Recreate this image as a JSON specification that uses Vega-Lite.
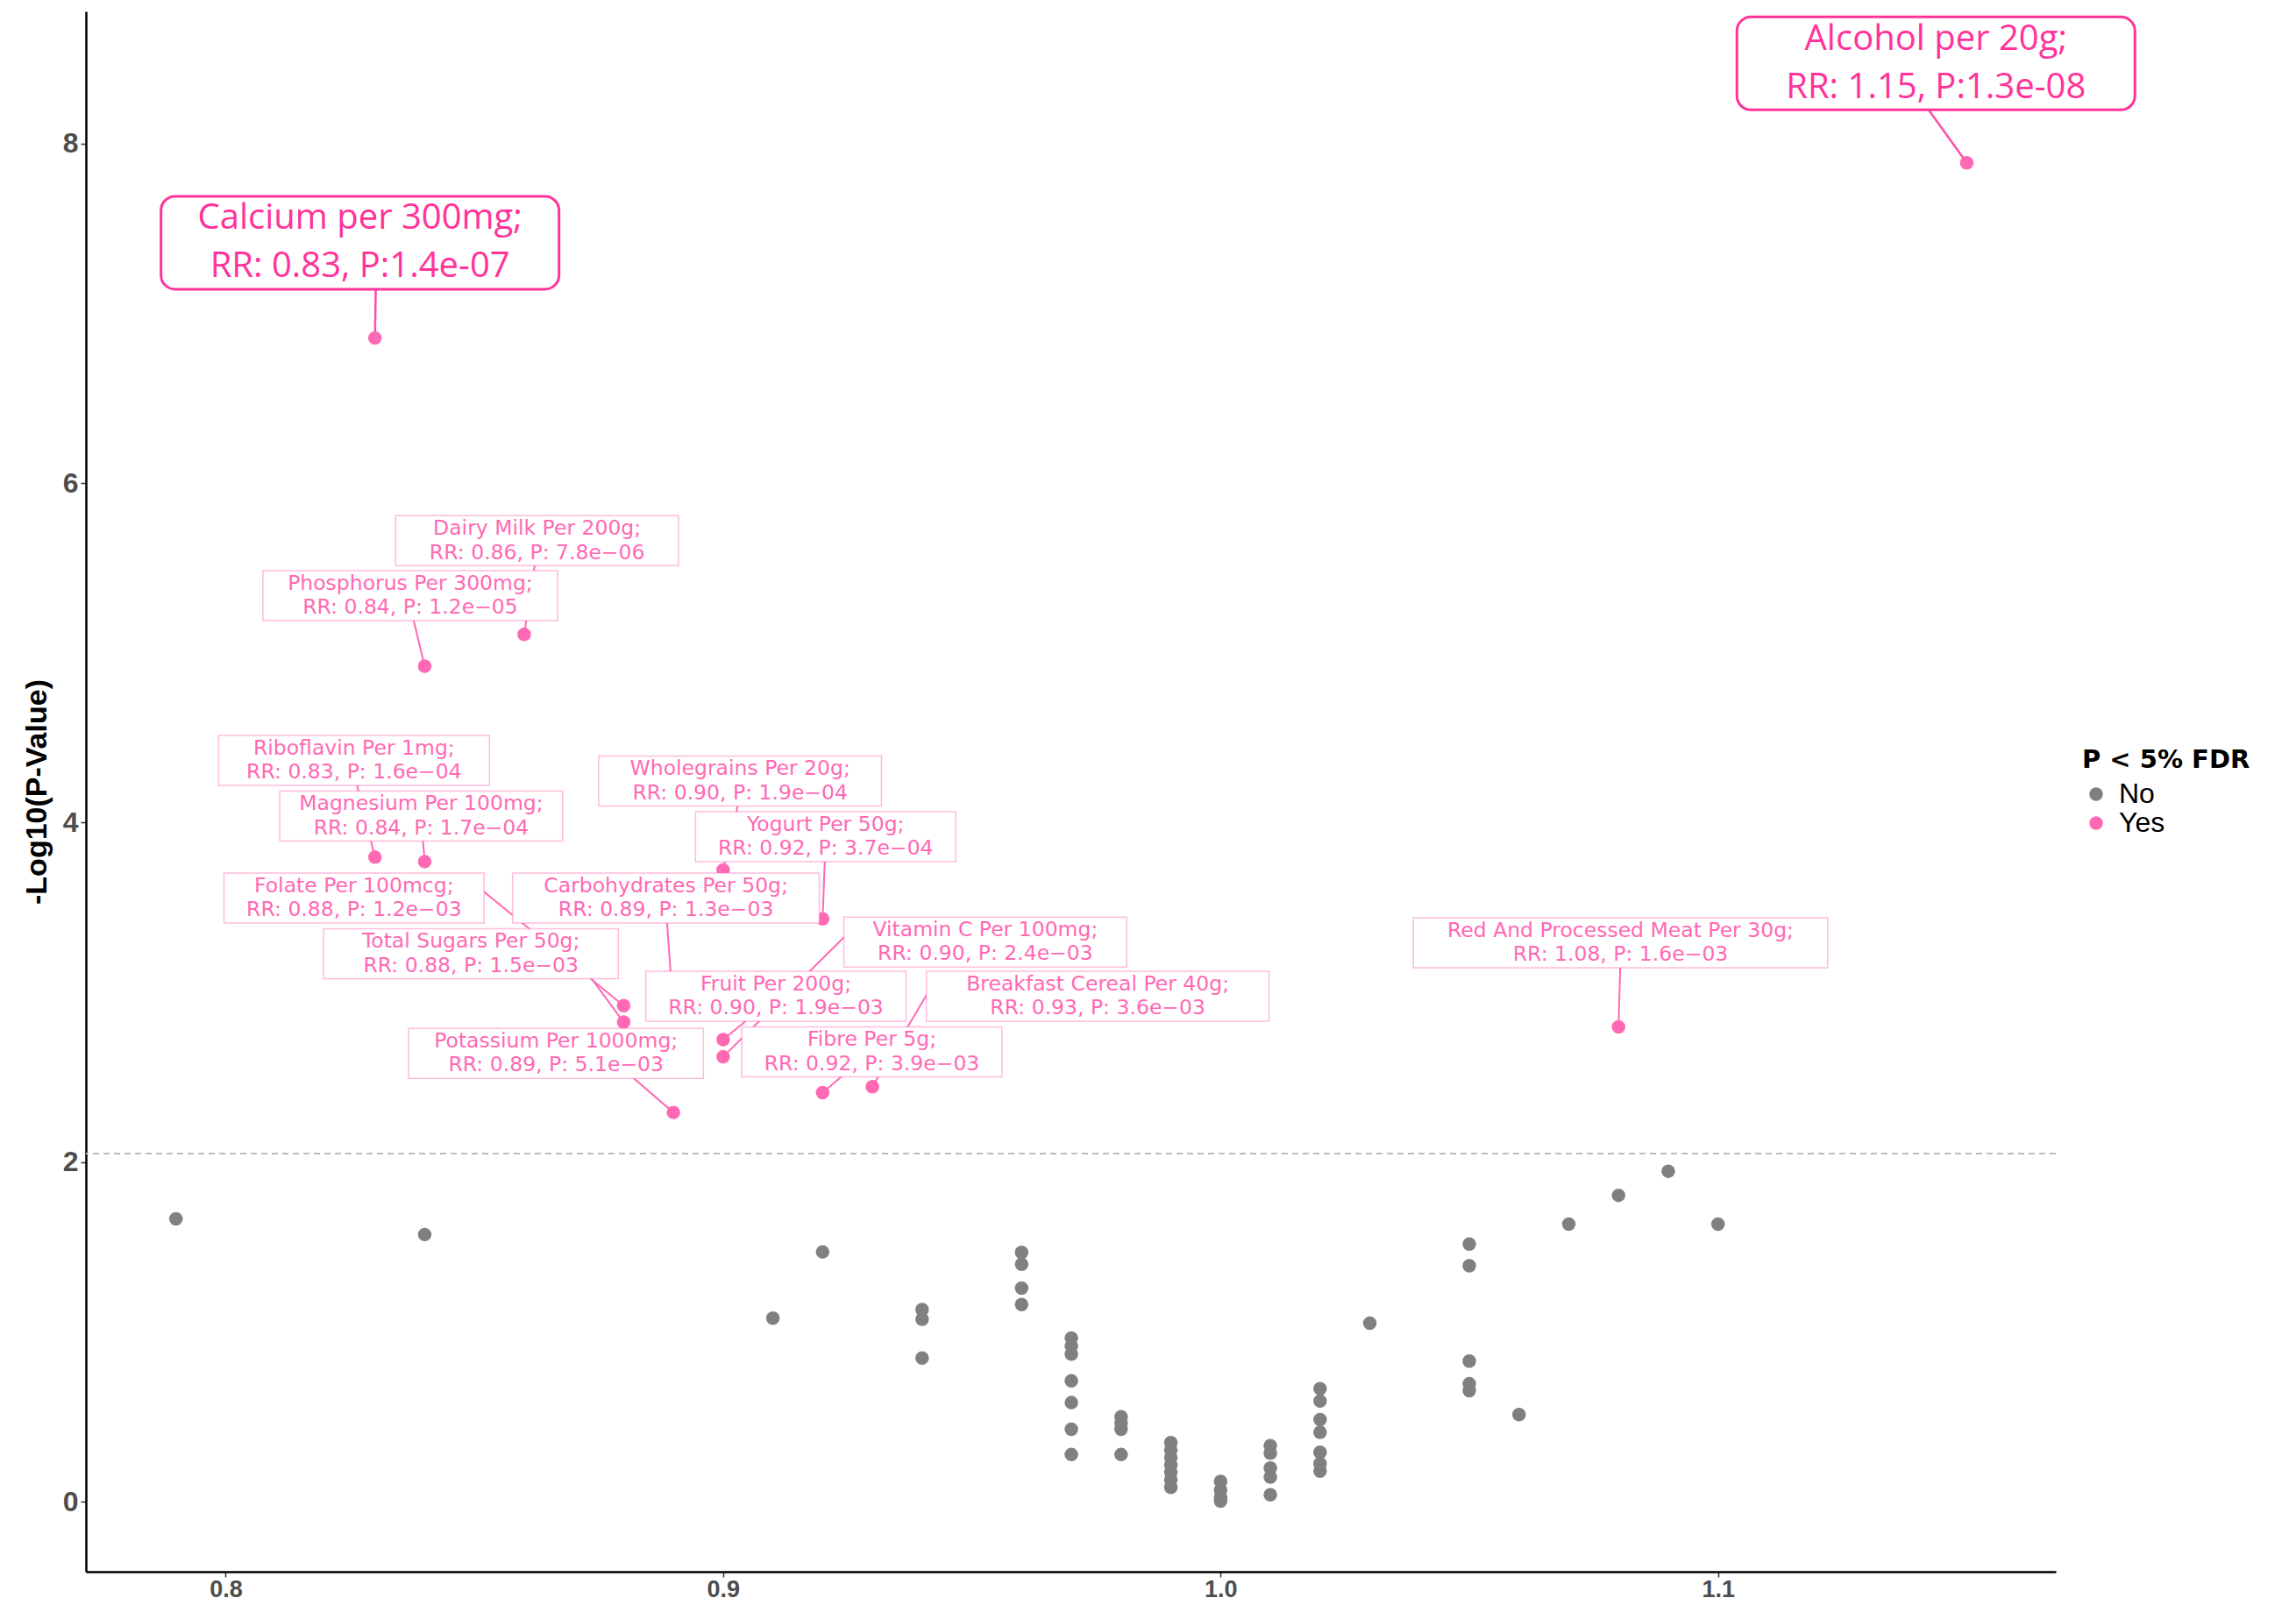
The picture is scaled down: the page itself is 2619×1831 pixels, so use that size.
{
  "$schema": "https://vega.github.io/schema/vega-lite/v6.json",
  "width": 2247,
  "height": 1780,
  "autosize": {"type": "none"},
  "padding": {"left": 98, "top": 13, "right": 274, "bottom": 38},
  "background": "white",
  "config": {"view": {"stroke": null}, "axis": {"grid": false}},
  "datasets": {
    "threshold": [{"fdr_logp": 2.05}],
    "results": [
      {"rr": 0.79, "logp": 1.665, "fdr": "No"},
      {"rr": 0.84, "logp": 1.573, "fdr": "No"},
      {"rr": 0.91, "logp": 1.081, "fdr": "No"},
      {"rr": 0.92, "logp": 1.471, "fdr": "No"},
      {"rr": 0.94, "logp": 1.131, "fdr": "No"},
      {"rr": 0.94, "logp": 1.074, "fdr": "No"},
      {"rr": 0.94, "logp": 0.846, "fdr": "No"},
      {"rr": 0.96, "logp": 1.468, "fdr": "No"},
      {"rr": 0.96, "logp": 1.398, "fdr": "No"},
      {"rr": 0.96, "logp": 1.257, "fdr": "No"},
      {"rr": 0.96, "logp": 1.161, "fdr": "No"},
      {"rr": 0.97, "logp": 0.963, "fdr": "No"},
      {"rr": 0.97, "logp": 0.916, "fdr": "No"},
      {"rr": 0.97, "logp": 0.869, "fdr": "No"},
      {"rr": 0.97, "logp": 0.711, "fdr": "No"},
      {"rr": 0.97, "logp": 0.583, "fdr": "No"},
      {"rr": 0.97, "logp": 0.426, "fdr": "No"},
      {"rr": 0.97, "logp": 0.277, "fdr": "No"},
      {"rr": 0.98, "logp": 0.500, "fdr": "No"},
      {"rr": 0.98, "logp": 0.462, "fdr": "No"},
      {"rr": 0.98, "logp": 0.426, "fdr": "No"},
      {"rr": 0.98, "logp": 0.277, "fdr": "No"},
      {"rr": 0.99, "logp": 0.347, "fdr": "No"},
      {"rr": 0.99, "logp": 0.303, "fdr": "No"},
      {"rr": 0.99, "logp": 0.259, "fdr": "No"},
      {"rr": 0.99, "logp": 0.215, "fdr": "No"},
      {"rr": 0.99, "logp": 0.172, "fdr": "No"},
      {"rr": 0.99, "logp": 0.128, "fdr": "No"},
      {"rr": 0.99, "logp": 0.084, "fdr": "No"},
      {"rr": 1.00, "logp": 0.119, "fdr": "No"},
      {"rr": 1.00, "logp": 0.067, "fdr": "No"},
      {"rr": 1.00, "logp": 0.023, "fdr": "No"},
      {"rr": 1.00, "logp": 0.003, "fdr": "No"},
      {"rr": 1.01, "logp": 0.329, "fdr": "No"},
      {"rr": 1.01, "logp": 0.285, "fdr": "No"},
      {"rr": 1.01, "logp": 0.198, "fdr": "No"},
      {"rr": 1.01, "logp": 0.145, "fdr": "No"},
      {"rr": 1.01, "logp": 0.040, "fdr": "No"},
      {"rr": 1.02, "logp": 0.665, "fdr": "No"},
      {"rr": 1.02, "logp": 0.592, "fdr": "No"},
      {"rr": 1.02, "logp": 0.483, "fdr": "No"},
      {"rr": 1.02, "logp": 0.408, "fdr": "No"},
      {"rr": 1.02, "logp": 0.291, "fdr": "No"},
      {"rr": 1.02, "logp": 0.224, "fdr": "No"},
      {"rr": 1.02, "logp": 0.180, "fdr": "No"},
      {"rr": 1.03, "logp": 1.051, "fdr": "No"},
      {"rr": 1.05, "logp": 1.517, "fdr": "No"},
      {"rr": 1.05, "logp": 1.389, "fdr": "No"},
      {"rr": 1.05, "logp": 0.828, "fdr": "No"},
      {"rr": 1.05, "logp": 0.694, "fdr": "No"},
      {"rr": 1.05, "logp": 0.653, "fdr": "No"},
      {"rr": 1.06, "logp": 0.513, "fdr": "No"},
      {"rr": 1.07, "logp": 1.634, "fdr": "No"},
      {"rr": 1.08, "logp": 1.804, "fdr": "No"},
      {"rr": 1.09, "logp": 1.946, "fdr": "No"},
      {"rr": 1.10, "logp": 1.634, "fdr": "No"},
      {"rr": 0.83, "logp": 6.854, "fdr": "Yes"},
      {"rr": 1.15, "logp": 7.886, "fdr": "Yes"},
      {"rr": 0.86, "logp": 5.108, "fdr": "Yes"},
      {"rr": 0.84, "logp": 4.921, "fdr": "Yes"},
      {"rr": 0.83, "logp": 3.796, "fdr": "Yes"},
      {"rr": 0.84, "logp": 3.770, "fdr": "Yes"},
      {"rr": 0.90, "logp": 3.721, "fdr": "Yes"},
      {"rr": 0.92, "logp": 3.432, "fdr": "Yes"},
      {"rr": 0.88, "logp": 2.921, "fdr": "Yes"},
      {"rr": 0.89, "logp": 2.886, "fdr": "Yes"},
      {"rr": 0.88, "logp": 2.824, "fdr": "Yes"},
      {"rr": 0.90, "logp": 2.620, "fdr": "Yes"},
      {"rr": 0.90, "logp": 2.721, "fdr": "Yes"},
      {"rr": 0.93, "logp": 2.444, "fdr": "Yes"},
      {"rr": 0.89, "logp": 2.292, "fdr": "Yes"},
      {"rr": 0.92, "logp": 2.409, "fdr": "Yes"},
      {"rr": 1.08, "logp": 2.796, "fdr": "Yes"}
    ],
    "annot_minor": [
      {"item": "Dairy Milk", "rr": 0.86, "logp": 5.108, "label_rr": 0.8626, "label_logp": 5.660, "seg_rr": 0.8624, "seg_logp": 5.57, "lines": ["Dairy Milk Per 200g;", "RR: 0.86, P: 7.8e−06"]},
      {"item": "Phosphorus", "rr": 0.84, "logp": 4.921, "label_rr": 0.8371, "label_logp": 5.336, "seg_rr": 0.8373, "seg_logp": 5.25, "lines": ["Phosphorus Per 300mg;", "RR: 0.84, P: 1.2e−05"]},
      {"item": "Riboflavin", "rr": 0.83, "logp": 3.796, "label_rr": 0.8258, "label_logp": 4.366, "seg_rr": 0.8259, "seg_logp": 4.28, "lines": ["Riboflavin Per 1mg;", "RR: 0.83, P: 1.6e−04"]},
      {"item": "Magnesium", "rr": 0.84, "logp": 3.770, "label_rr": 0.8393, "label_logp": 4.038, "seg_rr": 0.8395, "seg_logp": 3.95, "lines": ["Magnesium Per 100mg;", "RR: 0.84, P: 1.7e−04"]},
      {"item": "Wholegrains", "rr": 0.90, "logp": 3.721, "label_rr": 0.9034, "label_logp": 4.245, "seg_rr": 0.9034, "seg_logp": 4.16, "lines": ["Wholegrains Per 20g;", "RR: 0.90, P: 1.9e−04"]},
      {"item": "Yogurt", "rr": 0.92, "logp": 3.432, "label_rr": 0.9206, "label_logp": 3.917, "seg_rr": 0.9205, "seg_logp": 3.83, "lines": ["Yogurt Per 50g;", "RR: 0.92, P: 3.7e−04"]},
      {"item": "Folate", "rr": 0.88, "logp": 2.921, "label_rr": 0.8258, "label_logp": 3.555, "seg_rr": 0.8495, "seg_logp": 3.650, "lines": ["Folate Per 100mcg;", "RR: 0.88, P: 1.2e−03"]},
      {"item": "Carbohydrates", "rr": 0.89, "logp": 2.886, "label_rr": 0.8885, "label_logp": 3.555, "seg_rr": 0.8886, "seg_logp": 3.46, "lines": ["Carbohydrates Per 50g;", "RR: 0.89, P: 1.3e−03"]},
      {"item": "Total Sugars", "rr": 0.88, "logp": 2.824, "label_rr": 0.8493, "label_logp": 3.227, "seg_rr": 0.8706, "seg_logp": 3.198, "lines": ["Total Sugars Per 50g;", "RR: 0.88, P: 1.5e−03"]},
      {"item": "Vitamin C", "rr": 0.90, "logp": 2.620, "label_rr": 0.9527, "label_logp": 3.296, "seg_rr": 0.9255, "seg_logp": 3.359, "lines": ["Vitamin C Per 100mg;", "RR: 0.90, P: 2.4e−03"]},
      {"item": "Fruit", "rr": 0.90, "logp": 2.721, "label_rr": 0.9106, "label_logp": 2.977, "seg_rr": 0.9078, "seg_logp": 2.908, "lines": ["Fruit Per 200g;", "RR: 0.90, P: 1.9e−03"]},
      {"item": "Breakfast Cereal", "rr": 0.93, "logp": 2.444, "label_rr": 0.9753, "label_logp": 2.977, "seg_rr": 0.9423, "seg_logp": 3.054, "lines": ["Breakfast Cereal Per 40g;", "RR: 0.93, P: 3.6e−03"]},
      {"item": "Potassium", "rr": 0.89, "logp": 2.292, "label_rr": 0.8664, "label_logp": 2.640, "seg_rr": 0.8786, "seg_logp": 2.580, "lines": ["Potassium Per 1000mg;", "RR: 0.89, P: 5.1e−03"]},
      {"item": "Fibre", "rr": 0.92, "logp": 2.409, "label_rr": 0.9299, "label_logp": 2.649, "seg_rr": 0.9272, "seg_logp": 2.588, "lines": ["Fibre Per 5g;", "RR: 0.92, P: 3.9e−03"]},
      {"item": "Red And Processed Meat", "rr": 1.08, "logp": 2.796, "label_rr": 1.0804, "label_logp": 3.292, "seg_rr": 1.0804, "seg_logp": 3.21, "lines": ["Red And Processed Meat Per 30g;", "RR: 1.08, P: 1.6e−03"]}
    ],
    "annot_major": [
      {"item": "Calcium", "rr": 0.83, "logp": 6.854, "label_rr": 0.8270, "label_logp": 7.415, "seg_rr": 0.8302, "seg_logp": 7.20, "lines": ["Calcium per 300mg;", "RR: 0.83, P:1.4e-07"]},
      {"item": "Alcohol", "rr": 1.15, "logp": 7.886, "label_rr": 1.1438, "label_logp": 8.472, "seg_rr": 1.1408, "seg_logp": 8.26, "lines": ["Alcohol per 20g;", "RR: 1.15, P:1.3e-08"]}
    ]
  },
  "layer": [
    {
      "data": {"name": "threshold"},
      "mark": {"type": "rule", "color": "#BDBDBD", "strokeDash": [7, 5], "strokeWidth": 2},
      "encoding": {
        "y": {"field": "fdr_logp", "type": "quantitative", "title": "-Log10(P-Value)"}
      }
    },
    {
      "data": {"name": "annot_minor"},
      "mark": {"type": "rule", "color": "#FF69B4", "strokeWidth": 2},
      "encoding": {
        "x": {"field": "seg_rr", "type": "quantitative", "title": null},
        "y": {"field": "seg_logp", "type": "quantitative", "title": "-Log10(P-Value)"},
        "x2": {"field": "rr"},
        "y2": {"field": "logp"}
      }
    },
    {
      "data": {"name": "annot_major"},
      "mark": {"type": "rule", "color": "#FF4FA7", "strokeWidth": 2.5},
      "encoding": {
        "x": {"field": "seg_rr", "type": "quantitative", "title": null},
        "y": {"field": "seg_logp", "type": "quantitative", "title": "-Log10(P-Value)"},
        "x2": {"field": "rr"},
        "y2": {"field": "logp"}
      }
    },
    {
      "data": {"name": "results"},
      "mark": {"type": "circle", "size": 240, "opacity": 1},
      "encoding": {
        "x": {
          "field": "rr", "type": "quantitative", "title": null,
          "scale": {"domain": [0.7719, 1.1679], "nice": false, "zero": false},
          "axis": {
            "values": [0.8, 0.9, 1.0, 1.1], "format": ".1f",
            "labelFont": "Liberation Sans", "labelFontSize": 27, "labelFontWeight": "bold", "labelColor": "#4D4D4D",
            "domainColor": "#000000", "domainWidth": 2.5,
            "tickColor": "#333333", "tickSize": 6, "tickWidth": 1.5, "labelPadding": 1
          }
        },
        "y": {
          "field": "logp", "type": "quantitative", "title": "-Log10(P-Value)",
          "scale": {"domain": [-0.413, 8.778], "nice": false, "zero": false},
          "axis": {
            "values": [0, 2, 4, 6, 8], "format": "d",
            "labelFont": "Liberation Sans", "labelFontSize": 32, "labelFontWeight": "bold", "labelColor": "#4D4D4D",
            "domainColor": "#000000", "domainWidth": 2.5,
            "tickColor": "#333333", "tickSize": 6, "tickWidth": 1.5, "labelPadding": 3,
            "titleFont": "Liberation Sans", "titleFontSize": 34, "titleFontWeight": "bold", "titleColor": "#000000", "titlePadding": 12
          }
        },
        "color": {
          "field": "fdr", "type": "nominal",
          "scale": {"domain": ["No", "Yes"], "range": ["#808080", "#FF69B4"]},
          "legend": {
            "title": "P < 5% FDR", "orient": "none", "legendX": 2277, "legendY": 840,
            "titleFont": "DejaVu Sans", "titleFontSize": 29, "titleFontWeight": "bold", "titleColor": "#000000", "titlePadding": 8, "titleLimit": 600,
            "labelFont": "Liberation Sans", "labelFontSize": 32, "labelColor": "#000000", "labelOffset": 10, "labelLimit": 300,
            "symbolType": "circle", "symbolSize": 240, "symbolStrokeWidth": 0, "symbolOpacity": 1, "rowPadding": 1
          }
        }
      }
    },
    {
      "data": {"name": "annot_minor"},
      "mark": {
        "type": "rect", "fill": "white", "stroke": "#FF69B4", "strokeOpacity": 0.45, "strokeWidth": 1.5,
        "width": {"expr": "max(length(datum.lines[0]) * 0.58, 10.5) * 23.5 + 50"},
        "height": 57
      },
      "encoding": {
        "x": {"field": "label_rr", "type": "quantitative", "title": null},
        "y": {"field": "label_logp", "type": "quantitative", "title": "-Log10(P-Value)"}
      }
    },
    {
      "data": {"name": "annot_minor"},
      "mark": {"type": "text", "font": "DejaVu Sans", "fontSize": 23.5, "lineHeight": 27.5, "dy": -13.75, "color": "#FF69B4", "align": "center", "baseline": "middle"},
      "encoding": {
        "x": {"field": "label_rr", "type": "quantitative", "title": null},
        "y": {"field": "label_logp", "type": "quantitative", "title": "-Log10(P-Value)"},
        "text": {"field": "lines", "type": "nominal"}
      }
    },
    {
      "data": {"name": "annot_major"},
      "mark": {"type": "rect", "fill": "white", "stroke": "#FF3399", "strokeWidth": 3, "cornerRadius": 16, "width": 454, "height": 106},
      "encoding": {
        "x": {"field": "label_rr", "type": "quantitative", "title": null},
        "y": {"field": "label_logp", "type": "quantitative", "title": "-Log10(P-Value)"}
      }
    },
    {
      "data": {"name": "annot_major"},
      "mark": {"type": "text", "font": "Open Sans", "fontSize": 40, "lineHeight": 55, "dy": -27.5, "color": "#FF3399", "align": "center", "baseline": "middle"},
      "encoding": {
        "x": {"field": "label_rr", "type": "quantitative", "title": null},
        "y": {"field": "label_logp", "type": "quantitative", "title": "-Log10(P-Value)"},
        "text": {"field": "lines", "type": "nominal"}
      }
    }
  ]
}
